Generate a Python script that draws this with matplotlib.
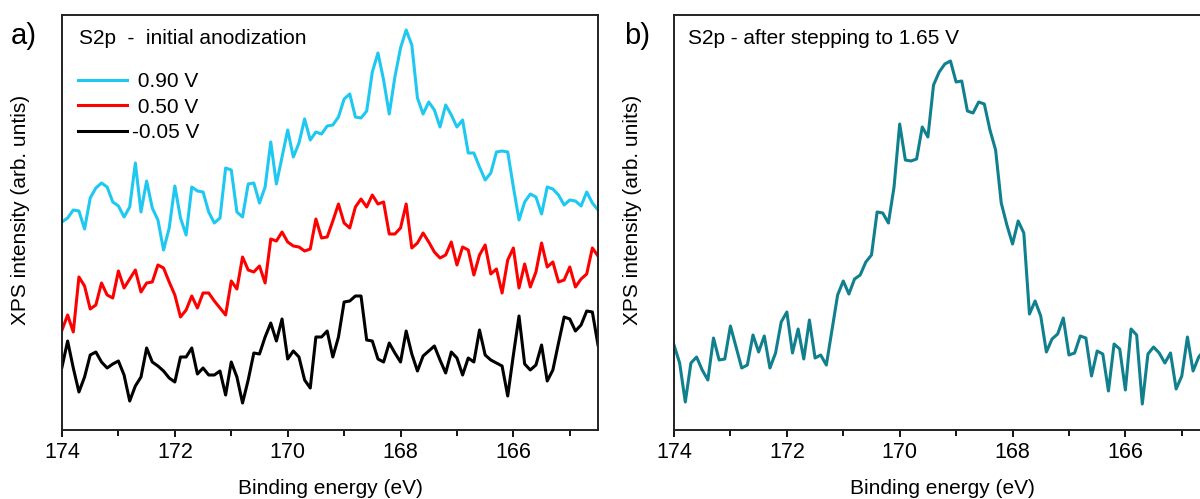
import numpy as np
import matplotlib
matplotlib.use("Agg")
import matplotlib.pyplot as plt

plt.rcParams['font.family'] = ['Liberation Sans', 'DejaVu Sans']

# spectra are sampled every 0.1 eV
energy_a = np.round(np.arange(174.0, 164.45, -0.1), 1)   # 174.0 ... 164.5
energy_b = np.round(np.arange(174.0, 164.55, -0.1), 1)   # 174.0 ... 164.6

# panel a) - intensities (arb. units, offset curves)
s2p_090 = [208, 212, 220, 219, 201, 232, 242, 247, 243, 228,
           224, 213, 223, 267, 218, 249, 222, 210, 180, 202,
           244, 212, 195, 243, 239, 238, 218, 207, 212, 262,
           260, 218, 213, 246, 247, 227, 243, 288, 246, 273,
           300, 273, 287, 311, 290, 298, 296, 304, 305, 313,
           331, 336, 313, 312, 319, 358, 377, 350, 316, 353,
           382, 400, 385, 332, 316, 328, 320, 303, 325, 315,
           303, 310, 277, 277, 263, 250, 257, 278, 279, 278,
           243, 210, 228, 236, 233, 216, 243, 241, 235, 225,
           230, 229, 224, 238, 227, 220]

s2p_050 = [100, 115, 98, 153, 144, 121, 125, 147, 135, 132,
           159, 142, 151, 160, 138, 147, 148, 165, 162, 148,
           135, 113, 120, 134, 122, 137, 137, 129, 122, 115,
           149, 141, 173, 160, 158, 164, 147, 191, 189, 198,
           188, 184, 183, 179, 181, 211, 192, 193, 209, 226,
           207, 202, 223, 231, 223, 235, 226, 228, 196, 196,
           202, 226, 182, 187, 197, 188, 178, 172, 175, 188,
           165, 183, 180, 155, 175, 185, 156, 161, 137, 170,
           182, 142, 166, 143, 158, 187, 163, 168, 148, 150,
           163, 143, 151, 156, 182, 174]

s2p_m005 = [63, 89, 62, 38, 53, 75, 78, 68, 62, 66,
            69, 55, 29, 44, 53, 82, 68, 64, 59, 52,
            48, 73, 73, 82, 56, 62, 55, 55, 59, 35,
            68, 53, 27, 50, 77, 76, 93, 107, 89, 111,
            71, 79, 73, 50, 42, 93, 93, 99, 73, 93,
            128, 129, 134, 134, 90, 89, 71, 68, 87, 77,
            68, 99, 76, 59, 74, 79, 84, 70, 57, 78,
            72, 55, 72, 68, 100, 75, 70, 67, 64, 34,
            75, 114, 66, 60, 65, 85, 49, 60, 87, 113,
            111, 99, 105, 119, 118, 85]

# panel b) - after stepping to 1.65 V
s2p_165 = [85, 67, 28, 67, 73, 60, 50, 92, 70, 71,
           104, 83, 62, 65, 95, 78, 94, 62, 77, 108,
           118, 77, 101, 71, 110, 72, 75, 65, 100, 135,
           149, 136, 151, 155, 168, 175, 218, 217, 207, 243,
           306, 270, 269, 271, 303, 293, 345, 358, 366, 369,
           348, 349, 319, 317, 328, 326, 300, 280, 227, 205,
           186, 209, 197, 116, 129, 114, 78, 91, 96, 112,
           75, 77, 94, 92, 54, 79, 76, 39, 86, 81,
           40, 101, 95, 26, 76, 83, 77, 67, 77, 41,
           54, 93, 59, 73, 80]

labels_a = [' 0.90 V', ' 0.50 V', '-0.05 V']
colors_a = ['#1ec8f0', '#ff0000', '#000000']
color_b = '#11808e'

W, H = 1200, 499
fig = plt.figure(figsize=(W / 100, H / 100), dpi=100)

# axes placed in pixels; panel b runs off the right edge like the original
ax_a = fig.add_axes([62 / W, 69 / H, 536 / W, 415 / H])
ax_b = fig.add_axes([674 / W, 69 / H, 536 / W, 415 / H])

for series, lab, col in zip([s2p_090, s2p_050, s2p_m005], labels_a, colors_a):
    ax_a.plot(energy_a, series, color=col, lw=2.2, label=lab)

ax_b.plot(energy_b, s2p_165, color=color_b, lw=2.2)

for ax in (ax_a, ax_b):
    ax.set_xlim(174, 164.5)
    ax.set_ylim(0, 415)
    ax.set_xticks([174, 172, 170, 168, 166])
    ax.set_xticks(np.arange(173, 164, -2), minor=True)
    ax.set_yticks([])
    ax.tick_params(axis='x', which='both', direction='out', width=1.3,
                   labelsize=15.5, pad=4, top=False)
    ax.tick_params(axis='x', which='major', length=5)
    ax.tick_params(axis='x', which='minor', length=4)
    for sp in ax.spines.values():
        sp.set_linewidth(1.4)
        sp.set_color('#222222')
    ax.set_xlabel('Binding energy (eV)', fontsize=15, labelpad=11)

ax_a.text(0.032, 0.930, 'S2p  -  initial anodization', transform=ax_a.transAxes,
          fontsize=15, va='baseline', ha='left')
ax_b.text(0.026, 0.930, 'S2p - after stepping to 1.65 V', transform=ax_b.transAxes,
          fontsize=15, va='baseline', ha='left')

ax_a.legend(loc='upper left', bbox_to_anchor=(0.03, 0.862), frameon=False,
            fontsize=15, handlelength=2.35, handletextpad=0.25,
            labelspacing=0.31, borderpad=0, borderaxespad=0)

# y labels and panel letters
fig.text(21 / W, 1 - 210 / H, 'XPS intensity (arb. untis)', rotation=90,
         fontsize=15, ha='center', va='center')
fig.text(633 / W, 1 - 210 / H, 'XPS intensity (arb. units)', rotation=90,
         fontsize=15, ha='center', va='center')
fig.text(11 / W, 1 - 44 / H, 'a)', fontsize=21, va='baseline', ha='left')
fig.text(624 / W, 1 - 44 / H, 'b)', fontsize=21, va='baseline', ha='left')

fig.savefig('out.png', dpi=100)
